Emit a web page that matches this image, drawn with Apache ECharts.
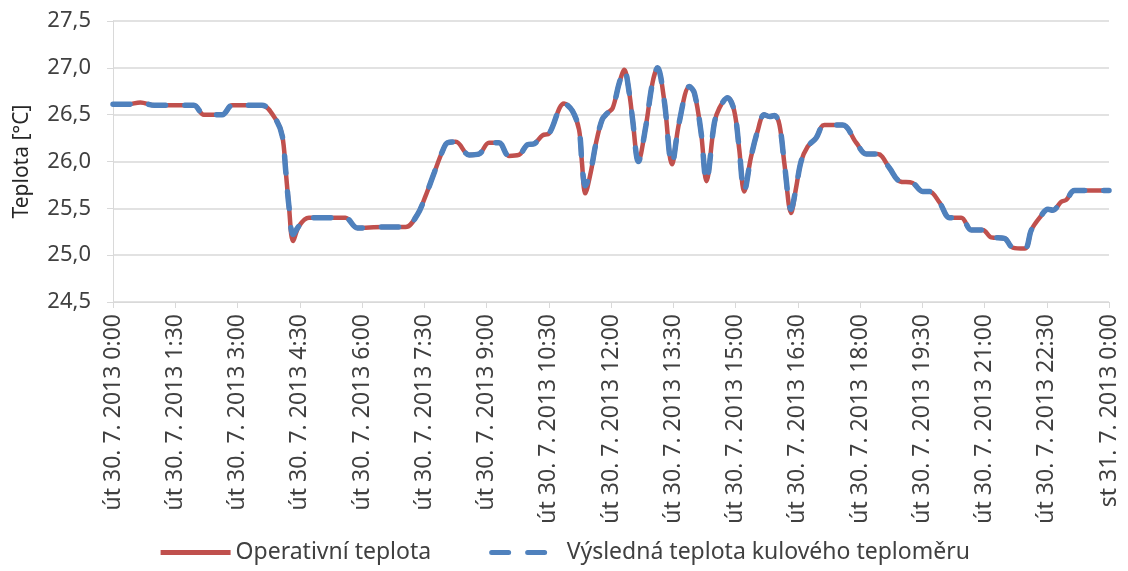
<!DOCTYPE html>
<html>
<head>
<meta charset="utf-8">
<script src="https://cdn.jsdelivr.net/npm/echarts@6/dist/echarts.min.js"></script>
<style>
html, body { margin: 0; padding: 0; background: #fff; }
#chart { width: 1128px; height: 571px; }
</style>
</head>
<body>
<div id="chart"></div>
<script>
// hodiny od 30. 7. 2013 0:00
var hours = [0, 0.35, 0.66, 1.0, 1.5, 1.95, 2.19, 2.63, 2.87, 3.2, 3.59, 3.92, 4.08, 4.16, 4.24, 4.34, 4.48, 4.72, 5.2, 5.6,
	5.89, 6.5, 7.05, 7.33, 7.53, 7.74, 7.94, 8.06, 8.26, 8.58, 8.82, 9.06, 9.3, 9.54, 9.78, 9.99, 10.15, 10.35, 10.51, 10.87,
	11.07, 11.23, 11.3, 11.38, 11.51, 11.64, 11.79, 11.92, 12.04, 12.2, 12.32, 12.44, 12.52, 12.66, 12.84, 13.0, 13.12, 13.28, 13.47, 13.64,
	13.89, 14.01, 14.17, 14.3, 14.49, 14.61, 14.81, 14.97, 15.09, 15.21, 15.37, 15.53, 15.69, 15.82, 15.94, 16.06, 16.18, 16.34, 16.46, 16.58,
	16.74, 16.94, 17.14, 17.58, 17.91, 18.15, 18.43, 18.71, 18.95, 19.27, 19.51, 19.67, 19.92, 20.16, 20.44, 20.68, 20.96, 21.16, 21.48, 21.68,
	21.97, 22.13, 22.33, 22.53, 22.65, 22.85, 22.97, 23.17, 24.0];

var operativni = [26.61, 26.61, 26.63, 26.6, 26.6, 26.6, 26.5, 26.5, 26.6, 26.6, 26.6, 26.45, 26.27, 25.91, 25.52, 25.15, 25.31, 25.40, 25.40, 25.40,
	25.29, 25.30, 25.30, 25.43, 25.63, 25.88, 26.11, 26.20, 26.21, 26.07, 26.08, 26.20, 26.20, 26.06, 26.07, 26.18, 26.19, 26.28, 26.30, 26.62,
	26.54, 26.34, 25.99, 25.66, 25.88, 26.20, 26.45, 26.52, 26.57, 26.84, 26.98, 26.73, 26.45, 26.00, 26.38, 26.84, 27.00, 26.66, 25.97, 26.41,
	26.80, 26.73, 26.31, 25.79, 26.41, 26.57, 26.68, 26.54, 26.13, 25.68, 26.04, 26.32, 26.50, 26.48, 26.49, 26.39, 25.97, 25.45, 25.72, 26.00,
	26.16, 26.25, 26.39, 26.39, 26.20, 26.08, 26.08, 25.93, 25.79, 25.77, 25.68, 25.68, 25.56, 25.40, 25.40, 25.27, 25.27, 25.19, 25.18, 25.08,
	25.07, 25.27, 25.40, 25.49, 25.48, 25.57, 25.59, 25.69, 25.69];

var kulovy = [26.61, 26.61, 26.63, 26.6, 26.6, 26.6, 26.5, 26.5, 26.6, 26.6, 26.6, 26.45, 26.27, 25.91, 25.52, 25.22, 25.31, 25.40, 25.40, 25.40,
	25.29, 25.30, 25.30, 25.43, 25.63, 25.88, 26.11, 26.20, 26.21, 26.07, 26.08, 26.20, 26.20, 26.06, 26.07, 26.18, 26.19, 26.28, 26.30, 26.62,
	26.54, 26.34, 25.99, 25.74, 25.90, 26.20, 26.45, 26.52, 26.57, 26.84, 26.98, 26.73, 26.45, 26.00, 26.38, 26.84, 27.00, 26.66, 25.97, 26.41,
	26.80, 26.73, 26.31, 25.79, 26.41, 26.57, 26.68, 26.54, 26.13, 25.68, 26.04, 26.32, 26.50, 26.48, 26.49, 26.39, 25.97, 25.49, 25.72, 26.00,
	26.16, 26.25, 26.39, 26.39, 26.20, 26.08, 26.08, 25.93, 25.79, 25.77, 25.68, 25.68, 25.56, 25.40, 25.40, 25.27, 25.27, 25.19, 25.18, 25.08,
	25.07, 25.27, 25.40, 25.49, 25.48, 25.57, 25.59, 25.69, 25.69];

var seriesNames = ['Operativní teplota', 'Výsledná teplota kulového teploměru'];

var myChart = echarts.init(document.getElementById('chart'));

function pairs(vals) {
	return hours.map(function (h, i) { return [h, vals[i]]; });
}

function timeLabel(v) {
	if (v >= 24) return 'st 31. 7. 2013 0:00';
	var h = Math.floor(v);
	var m = Math.round((v - h) * 60);
	return 'út 30. 7. 2013 ' + h + ':' + (m < 10 ? '0' + m : m);
}

var font = 'Noto Sans';

var option = {
	animation: false,
	textStyle: { fontFamily: font },
	grid: { left: 113, right: 19, top: 21, bottom: 269 },
	legend: {
		bottom: 2,
		left: 'center',
		itemWidth: 70,
		itemHeight: 5,
		itemGap: 58,
		itemStyle: { opacity: 0 },
		lineStyle: { width: 5 },
		textStyle: { fontSize: 23, color: '#404040', fontFamily: font },
		data: seriesNames
	},
	xAxis: {
		type: 'value',
		min: 0,
		max: 24,
		interval: 1.5,
		axisLine: { lineStyle: { color: '#d9d9d9' } },
		axisTick: { show: true, length: 6, lineStyle: { color: '#d9d9d9' } },
		splitLine: { show: false },
		axisLabel: {
			rotate: 90,
			margin: 12,
			fontSize: 23,
			color: '#404040',
			formatter: timeLabel
		}
	},
	yAxis: {
		type: 'value',
		min: 24.5,
		max: 27.5,
		interval: 0.5,
		name: 'Teplota [°C]',
		nameLocation: 'middle',
		nameGap: 80,
		nameTextStyle: { fontSize: 21, color: '#262626' },
		axisLine: { show: true, lineStyle: { color: '#d9d9d9' } },
		axisTick: { show: true, length: 6, lineStyle: { color: '#d9d9d9' } },
		splitLine: { lineStyle: { color: '#d9d9d9', width: 1.5 } },
		axisLabel: {
			margin: 22,
			fontSize: 22,
			color: '#404040',
			formatter: function (v) { return v.toFixed(1).replace('.', ','); }
		}
	},
	series: [{
		name: seriesNames[0],
		type: 'line',
		smooth: 0.35,
		showSymbol: false,
		symbol: 'none',
		data: pairs(operativni),
		itemStyle: { color: '#c0504d' },
		lineStyle: { color: '#c0504d', width: 4.5 }
	}, {
		name: seriesNames[1],
		type: 'line',
		smooth: 0.35,
		showSymbol: false,
		symbol: 'none',
		data: pairs(kulovy),
		itemStyle: { color: '#4f81bd' },
		lineStyle: { color: '#4f81bd', width: 5.5, type: [17, 19], cap: 'round' }
	}]
};

myChart.setOption(option);
</script>
</body>
</html>
